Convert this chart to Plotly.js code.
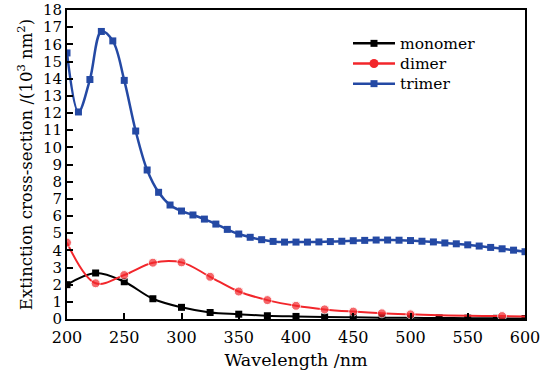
<!DOCTYPE html>
<html><head><meta charset="utf-8">
<script src="https://cdn.plot.ly/plotly-3.0.1.min.js"></script>
<style>html,body{margin:0;padding:0;background:#fff}#c{width:542px;height:374px}</style>
</head><body><div id="c"></div>
<script>
var monoX = [200,225,250,275,300,325,350,375,400,425,450,475,500,525,550,575,600];
var monoY = [2.0,2.68,2.17,1.18,0.68,0.38,0.28,0.19,0.15,0.12,0.1,0.08,0.07,0.06,0.05,0.04,0.03];

var dimerX = [200,225,250,275,300,325,350,375,400,425,450,475,500,525,550,580,600];
var dimerY = [4.45,2.08,2.56,3.28,3.3,2.46,1.6,1.1,0.77,0.56,0.43,0.33,0.27,0.22,0.19,0.17,0.15];
var dimerMarked = [200,225,250,275,300,325,350,375,400,425,450,475,500,580];

var trimerX = [200,210,220,230,240,250,260,270,280,290,300,310,320,330,340,350,360,370,380,390,400,410,420,430,440,450,460,470,480,490,500,510,520,530,540,550,560,570,580,590,600];
var trimerY = [15.5,12.06,13.95,16.75,16.2,13.9,10.95,8.68,7.38,6.64,6.29,6.06,5.82,5.53,5.22,4.95,4.76,4.62,4.52,4.48,4.48,4.48,4.49,4.51,4.53,4.56,4.58,4.6,4.6,4.59,4.57,4.53,4.49,4.43,4.38,4.32,4.25,4.17,4.09,4.01,3.92];

var seriesNames = ['monomer','dimer','trimer'];
var xTicks = [200,250,300,350,400,450,500,550,600];
var yTicks = [0,1,2,3,4,5,6,7,8,9,10,11,12,13,14,15,16,17,18];

var FONT = 'DejaVu Serif, Liberation Serif, serif';
var blue = '#2449a4', red = '#f2262b';
var colors = ['#000', red, blue];
var symbols = ['rect', 'circle', 'rect'];

var traces = [
  {x: monoX, y: monoY, name: seriesNames[0], mode: 'lines+markers',
   line: {color: '#000', width: 2, shape: 'spline'},
   marker: {symbol: 'square', size: 7, color: '#000'}},
  {x: dimerX, y: dimerY, name: seriesNames[1], mode: 'lines+markers',
   line: {color: red, width: 2, shape: 'spline'},
   marker: {symbol: 'circle', size: dimerX.map(function(v){return dimerMarked.indexOf(v) >= 0 ? 9 : 0;}), color: red}},
  {x: trimerX, y: trimerY, name: seriesNames[2], mode: 'lines+markers',
   line: {color: blue, width: 2.5, shape: 'spline'},
   marker: {symbol: 'square', size: 7, color: blue}}
];

// custom legend (paper coordinates)
var plotTop = 10, plotH = 309, plotL = 67, plotW = 458;
function py(px) { return (plotTop + plotH - px) / plotH; }
function pxX(px) { return (px - plotL) / plotW; }
var legFont = 15.5, legGap = legFont * 1.3, legMid = 63.5;
var shapes = [];
seriesNames.forEach(function(n, i) {
  var yy = py(legMid + (i - 1) * legGap);
  var h = i === 1 ? 4.5 : 3.5;
  shapes.push({type: 'line', xref: 'paper', yref: 'paper', x0: pxX(353), x1: pxX(395), y0: yy, y1: yy,
               line: {color: colors[i], width: 2.5}});
  shapes.push({type: symbols[i], xref: 'paper', yref: 'paper', xsizemode: 'pixel', ysizemode: 'pixel',
               xanchor: pxX(374), yanchor: yy, x0: -h, x1: h, y0: -h, y1: h,
               fillcolor: colors[i], line: {width: 0}});
});
var annotations = [{xref: 'paper', yref: 'paper', x: pxX(399), y: py(legMid), xanchor: 'left', yanchor: 'middle',
                    align: 'left', text: seriesNames.join('<br>'), showarrow: false, borderpad: 0,
                    font: {family: FONT, size: legFont, color: '#000'}}];

var layout = {
  width: 542, height: 374,
  margin: {l: 67, r: 17, t: 10, b: 55},
  paper_bgcolor: '#fff', plot_bgcolor: '#fff',
  font: {family: FONT, color: '#000', size: 16},
  showlegend: false,
  shapes: shapes, annotations: annotations,
  xaxis: {range: [200, 600], tickvals: xTicks, ticktext: xTicks.map(String),
          ticks: 'inside', ticklen: 6, tickwidth: 2, tickcolor: '#000',
          showline: true, linewidth: 2, linecolor: '#000', mirror: true,
          showgrid: false, zeroline: false, ticklabelstandoff: 3,
          tickfont: {family: FONT, size: 16},
          title: {text: 'Wavelength /nm', font: {family: FONT, size: 17.5}, standoff: 8}},
  yaxis: {range: [0, 18], tickvals: yTicks, ticktext: yTicks.map(String),
          ticks: 'inside', ticklen: 6, tickwidth: 2, tickcolor: '#000',
          showline: true, linewidth: 2, linecolor: '#000', mirror: true,
          showgrid: false, zeroline: false,
          tickfont: {family: FONT, size: 15},
          title: {text: 'Extinction cross-section /(10<sup>3</sup> nm<sup>2</sup>)', font: {family: FONT, size: 16.5}, standoff: 6}}
};

Plotly.newPlot('c', traces, layout, {displayModeBar: false, staticPlot: true});
</script></body></html>
